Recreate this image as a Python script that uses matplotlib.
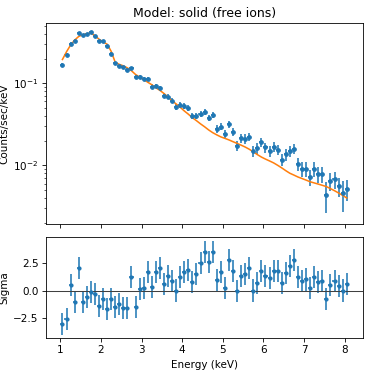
import matplotlib
matplotlib.use("Agg")
import numpy as np
import matplotlib.pyplot as plt

# bin centres (keV), half width 0.05 keV
energy = [1.05, 1.15, 1.25, 1.35, 1.45, 1.55, 1.65, 1.75, 1.85, 1.95,
          2.05, 2.15, 2.25, 2.35, 2.45, 2.55, 2.65, 2.75, 2.85, 2.95,
          3.05, 3.15, 3.25, 3.35, 3.45, 3.55, 3.65, 3.75, 3.85, 3.95,
          4.05, 4.15, 4.25, 4.35, 4.45, 4.55, 4.65, 4.75, 4.85, 4.95,
          5.05, 5.15, 5.25, 5.35, 5.45, 5.55, 5.65, 5.75, 5.85, 5.95,
          6.05, 6.15, 6.25, 6.35, 6.45, 6.55, 6.65, 6.75, 6.85, 6.95,
          7.05, 7.15, 7.25, 7.35, 7.45, 7.55, 7.65, 7.75, 7.85, 7.95,
          8.05]
energy_halfwidth = 0.05

counts = [0.168, 0.222, 0.305, 0.332, 0.405, 0.383, 0.394, 0.416, 0.372, 0.329,
          0.323, 0.281, 0.229, 0.175, 0.164, 0.156, 0.145, 0.152, 0.118, 0.119,
          0.112, 0.112, 0.091, 0.093, 0.087, 0.0707, 0.0688, 0.0615, 0.0515, 0.0545,
          0.0531, 0.0497, 0.0401, 0.0401, 0.0428, 0.0452, 0.0381, 0.0409, 0.0277, 0.0297,
          0.0238, 0.0315, 0.0254, 0.0172, 0.0215, 0.0211, 0.0223, 0.0151, 0.0163, 0.0190,
          0.0165, 0.0151, 0.0169, 0.0155, 0.0117, 0.0136, 0.0148, 0.0160, 0.0104, 0.0091,
          0.0091, 0.0072, 0.0091, 0.0078, 0.0078, 0.0044, 0.0064, 0.0068, 0.0056, 0.0046,
          0.0052]

counts_err = [0.009, 0.010, 0.012, 0.013, 0.014, 0.014, 0.014, 0.014, 0.013, 0.012,
              0.012, 0.011, 0.010, 0.0085, 0.008, 0.0078, 0.0075, 0.0075, 0.0068, 0.0066,
              0.0063, 0.0062, 0.0057, 0.0056, 0.0054, 0.0050, 0.0049, 0.0046, 0.0043, 0.0043,
              0.0042, 0.0041, 0.0037, 0.0037, 0.0037, 0.0038, 0.0035, 0.0036, 0.0031, 0.0031,
              0.0028, 0.0032, 0.0029, 0.0024, 0.0027, 0.0027, 0.0027, 0.0023, 0.0024, 0.0025,
              0.0024, 0.0023, 0.0024, 0.0023, 0.0020, 0.0022, 0.0022, 0.0023, 0.0019, 0.0018,
              0.0018, 0.0016, 0.0018, 0.0017, 0.0017, 0.0018, 0.0016, 0.0016, 0.0015, 0.0019,
              0.0015]

model = [0.195, 0.242, 0.292, 0.336, 0.372, 0.390, 0.402, 0.410, 0.380, 0.345,
         0.318, 0.300, 0.245, 0.180, 0.170, 0.163, 0.154, 0.142, 0.128, 0.119,
         0.111, 0.103, 0.096, 0.088, 0.082, 0.075, 0.068, 0.061, 0.056, 0.051,
         0.046, 0.042, 0.038, 0.035, 0.032, 0.0295, 0.0270, 0.0250, 0.0235, 0.0222,
         0.0213, 0.0204, 0.0194, 0.0185, 0.0176, 0.0167, 0.0157, 0.0146, 0.0135, 0.0126,
         0.0119, 0.0113, 0.0107, 0.0100, 0.0093, 0.0086, 0.0080, 0.0076, 0.0072, 0.0069,
         0.0066, 0.0063, 0.0061, 0.0059, 0.0057, 0.0055, 0.0052, 0.0049, 0.0046, 0.0043,
         0.0040]

sigma = [-3.0, -2.6, 0.47, -1.0, 2.05, -1.0, -0.6, -0.1, -0.3, -1.4,
         -0.8, -1.65, -0.8, -1.45, -1.2, -1.55, -1.6, 1.2, -1.5, 0.1,
         0.2, 1.7, 0.3, 1.7, 2.05, 0.6, 1.3, 0.85, 0.0, 1.25,
         1.7, 1.85, 0.75, 1.5, 2.5, 3.5, 2.6, 3.45, 0.95, 1.65,
         0.2, 2.75, 1.8, -0.05, 1.3, 1.5, 2.0, 0.0, 0.7, 1.75,
         1.3, 1.15, 1.8, 1.75, 0.65, 1.6, 2.2, 2.8, 1.2, 0.85,
         1.0, 0.25, 1.25, 0.75, 0.9, -0.75, 0.5, 0.85, 0.45, 0.0,
         0.6]

fig, (ax_top, ax_res) = plt.subplots(
    2, 1, sharex=True, figsize=(5, 5), dpi=74.8,
    gridspec_kw={"height_ratios": [2, 1]},
)
fig.subplots_adjust(left=0.123, right=0.971, top=0.938, bottom=0.096, hspace=0.086)

ax_top.errorbar(energy, counts, xerr=energy_halfwidth, yerr=counts_err,
                fmt="o", ms=3.5, color="C0")
ax_top.plot(energy, model, color="C1", lw=1.5)
ax_top.set_yscale("log")
ax_top.set_ylim(0.0019, 0.54)
ax_top.set_ylabel("Counts/sec/keV")
ax_top.set_title("Model: solid (free ions)")

ax_res.errorbar(energy, sigma, xerr=energy_halfwidth, yerr=1.0,
                fmt="o", ms=3, color="C0")
ax_res.axhline(0, color="0.25", lw=1)
ax_res.set_ylim(-4.3, 4.8)
ax_res.set_ylabel("Sigma")
ax_res.set_xlabel("Energy (keV)")

fig.savefig("out.png", dpi=74.8)
